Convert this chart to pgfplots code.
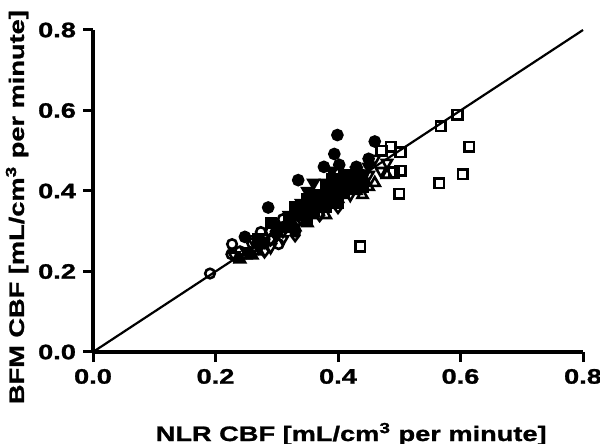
\documentclass[border=0pt]{standalone}
\usepackage{fontspec}
\setmainfont{Liberation Sans}[FakeStretch=1.3, BoldFeatures={FakeBold=1.2}]
\usepackage{pgfplots}
\pgfplotsset{compat=1.18}
\begin{document}
\begin{tikzpicture}
\begin{axis}[
  scale only axis, width=245bp, height=161bp,
  xmin=0, xmax=0.8, ymin=0, ymax=0.8,
  axis x line=bottom, axis y line=left,
  axis line style={-, line width=2bp, black},
  tick align=outside, major tick length=5bp,
  every tick/.style={black, line width=1.5bp},
  xtick={0,0.2,0.4,0.6,0.8}, ytick={0,0.2,0.4,0.6,0.8},
  /pgf/number format/assume math mode=true,
  xticklabel style={/pgf/number format/.cd, fixed, fixed zerofill, precision=1},
  yticklabel style={/pgf/number format/.cd, fixed, fixed zerofill, precision=1},
  ticklabel style={font=\bfseries\fontsize{10.5}{12}\selectfont},
  xlabel={NLR CBF [mL/cm\textsuperscript{3} per minute]},
  ylabel={BFM CBF [mL/cm\textsuperscript{3} per minute]},
  label style={font=\bfseries\fontsize{10.5}{12}\selectfont},
  xlabel style={at={(rel axis cs:0.527,-0.255)}, anchor=center},
  ylabel style={at={(rel axis cs:-0.155,0.45)}, anchor=center},
  clip=false,
  every axis plot/.append style={line width=1.3bp, black},
]
\addplot[no marks, line width=1.1bp] coordinates {(0,0) (0.8,0.8)};
% filled circles
\addplot[only marks, mark=*, mark size=2.5bp] coordinates {
(0.399,0.539) (0.394,0.492) (0.377,0.460) (0.335,0.427) (0.286,0.359)
(0.460,0.523) (0.402,0.465) (0.248,0.286) (0.31,0.31) (0.34,0.35)
(0.38,0.40) (0.42,0.43) (0.44,0.44) (0.36,0.37) (0.40,0.41) (0.28,0.27) (0.33,0.30)
(0.45,0.48) (0.43,0.46)
};
% open circles
\addplot[only marks, mark=o, mark size=2.4bp] coordinates {
(0.191,0.195) (0.227,0.268) (0.226,0.243) (0.274,0.298) (0.303,0.268)
(0.26,0.27) (0.29,0.30) (0.31,0.33) (0.33,0.32) (0.35,0.36) (0.24,0.25) (0.28,0.28)
};
% open squares
\addplot[only marks, mark=square, mark size=2.4bp] coordinates {
(0.595,0.589) (0.568,0.561) (0.502,0.496) (0.486,0.510) (0.471,0.500)
(0.614,0.510) (0.502,0.450) (0.491,0.446) (0.565,0.419) (0.604,0.442)
(0.500,0.393) (0.436,0.262)
};
% filled squares
\addplot[only marks, mark=square*, mark size=2.4bp] coordinates {
(0.30,0.30) (0.32,0.33) (0.34,0.34) (0.35,0.38) (0.36,0.35) (0.37,0.37)
(0.38,0.36) (0.39,0.39) (0.40,0.40) (0.41,0.42) (0.42,0.41) (0.40,0.37)
(0.38,0.41) (0.36,0.39) (0.43,0.43) (0.41,0.44) (0.33,0.36) (0.29,0.32)
(0.35,0.33) (0.39,0.43) (0.37,0.38) (0.39,0.41) (0.41,0.40) (0.34,0.36)
(0.42,0.44) (0.40,0.43) (0.44,0.41) (0.32,0.31) (0.27,0.28)
};
% filled down triangles
\addplot[only marks, mark=triangle*, mark size=2.9bp, mark options={rotate=180}] coordinates {
(0.36,0.42) (0.38,0.42) (0.34,0.37) (0.32,0.34) (0.41,0.40) (0.43,0.45)
(0.45,0.46) (0.30,0.29) (0.27,0.26) (0.25,0.25) (0.37,0.39) (0.44,0.42)
(0.39,0.45) (0.35,0.40)
};
% open down triangles
\addplot[only marks, mark=triangle, mark size=2.9bp, mark options={rotate=180}] coordinates {
(0.46,0.48) (0.48,0.47) (0.47,0.45) (0.29,0.26) (0.31,0.28) (0.26,0.28)
(0.42,0.39) (0.45,0.44) (0.23,0.24)
};
% open up triangles
\addplot[only marks, mark=triangle, mark size=2.9bp] coordinates {
(0.44,0.39) (0.46,0.42) (0.48,0.44) (0.25,0.24) (0.27,0.25) (0.43,0.40)
(0.40,0.38) (0.45,0.41) (0.38,0.34) (0.35,0.32)
};
% filled up triangles
\addplot[only marks, mark=triangle*, mark size=2.9bp] coordinates {
(0.33,0.31) (0.36,0.34) (0.39,0.37) (0.41,0.39) (0.42,0.42) (0.44,0.43)
(0.37,0.36) (0.24,0.23) (0.26,0.24) (0.30,0.31)
};
% open diamonds
\addplot[only marks, mark=diamond, mark size=2.9bp] coordinates {
(0.28,0.25) (0.31,0.30) (0.34,0.33) (0.37,0.34) (0.40,0.36) (0.33,0.29) (0.29,0.28)
};
\coordinate (bl) at (rel axis cs:-0.1898,-0.2857);
\coordinate (tr) at (rel axis cs:1.0347,1.0932);
\end{axis}
\pgfresetboundingbox
\path[use as bounding box] (bl) rectangle (tr);
\end{tikzpicture}
\end{document}
